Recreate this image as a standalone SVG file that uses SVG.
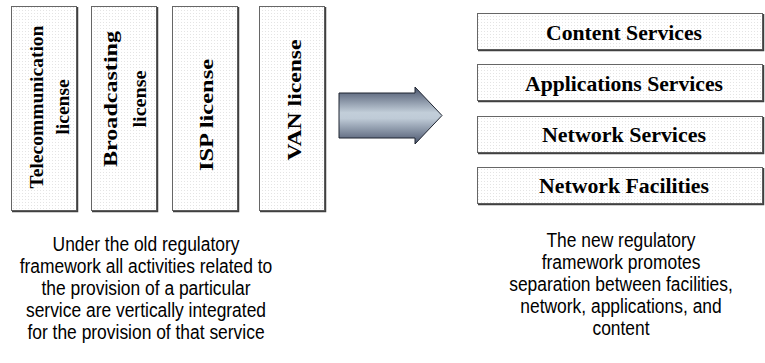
<svg xmlns="http://www.w3.org/2000/svg" width="765" height="363" viewBox="0 0 765 363">
  <defs>
    <!-- faint dotted fill used inside all boxes -->
    <pattern id="dots" width="3" height="3" patternUnits="userSpaceOnUse">
      <rect width="3" height="3" fill="#ffffff"/>
      <rect x="1" y="1" width="1" height="1" fill="#e4e4e4"/>
    </pattern>
    <linearGradient id="arrowFill" x1="0" y1="0" x2="0" y2="1">
      <stop offset="0" stop-color="#48536b"/>
      <stop offset="0.45" stop-color="#c2ced9"/>
      <stop offset="0.55" stop-color="#bfcbd7"/>
      <stop offset="1" stop-color="#4a556d"/>
    </linearGradient>
  </defs>
  <style>
    .box { fill: url(#dots); stroke: #666666; stroke-width: 1; }
    .shadow { stroke: #404040; stroke-width: 1.5; fill: none; }
    .lic { font-family: "Liberation Serif", "Times New Roman", serif; font-weight: bold; font-size: 19.5px; fill: #000; text-anchor: middle; }
    .layer { font-family: "Liberation Serif", "Times New Roman", serif; font-weight: bold; font-size: 20.5px; fill: #000; text-anchor: middle; }
    .note { font-family: "Liberation Sans", Arial, sans-serif; font-size: 21px; fill: #000; text-anchor: middle; }
  </style>

  <!-- vertically integrated licences -->
  <g id="telecom-license">
    <rect class="box" x="11.5" y="6.5" width="65" height="204"/>
    <path class="shadow" d="M12 211.5 H77.5 V7"/>
    <g transform="translate(0,107) rotate(-90)">
      <text class="lic" x="0" y="43">Telecommunication</text>
      <text class="lic" x="0" y="69">license</text>
    </g>
  </g>
  <g id="broadcasting-license">
    <rect class="box" x="91.5" y="6.5" width="65" height="204"/>
    <path class="shadow" d="M92 211.5 H157.5 V7"/>
    <g transform="translate(0,99) rotate(-90)">
      <text class="lic" x="0" y="117" textLength="136" lengthAdjust="spacingAndGlyphs">Broadcasting</text>
      <text class="lic" x="0" y="146" textLength="57" lengthAdjust="spacingAndGlyphs">license</text>
    </g>
  </g>
  <g id="isp-license">
    <rect class="box" x="172.5" y="6.5" width="65" height="204"/>
    <path class="shadow" d="M173 211.5 H238.5 V7"/>
    <g transform="translate(0,115) rotate(-90)">
      <text class="lic" x="0" y="213" textLength="112" lengthAdjust="spacingAndGlyphs">ISP license</text>
    </g>
  </g>
  <g id="van-license">
    <rect class="box" x="259.5" y="6.5" width="65" height="204"/>
    <path class="shadow" d="M260 211.5 H325.5 V7"/>
    <g transform="translate(0,100) rotate(-90)">
      <text class="lic" x="0" y="301" textLength="121" lengthAdjust="spacingAndGlyphs">VAN license</text>
    </g>
  </g>

  <!-- transition arrow -->
  <g id="connectors">
    <polygon points="339,93 415,93 415,87 442,115.5 415,144 415,138 339,138" fill="url(#arrowFill)" stroke="#1e2430" stroke-width="1"/>
  </g>

  <!-- separated service layers -->
  <g id="content-services">
    <rect class="box" x="477.5" y="13.5" width="285" height="36"/>
    <path class="shadow" d="M478 50.5 H763.5 V14"/>
    <text class="layer" x="624" y="40" textLength="156" lengthAdjust="spacingAndGlyphs">Content Services</text>
  </g>
  <g id="applications-services">
    <rect class="box" x="477.5" y="64.5" width="285" height="36"/>
    <path class="shadow" d="M478 101.5 H763.5 V65"/>
    <text class="layer" x="624" y="91" textLength="198" lengthAdjust="spacingAndGlyphs">Applications Services</text>
  </g>
  <g id="network-services">
    <rect class="box" x="477.5" y="116.5" width="285" height="36"/>
    <path class="shadow" d="M478 153.5 H763.5 V117"/>
    <text class="layer" x="624" y="142" textLength="164" lengthAdjust="spacingAndGlyphs">Network Services</text>
  </g>
  <g id="network-facilities">
    <rect class="box" x="477.5" y="167.5" width="285" height="36"/>
    <path class="shadow" d="M478 204.5 H763.5 V168"/>
    <text class="layer" x="624" y="193" textLength="170" lengthAdjust="spacingAndGlyphs">Network Facilities</text>
  </g>

  <!-- captions, set in a narrowed sans -->
  <g id="old-caption" transform="translate(146,0) scale(0.83,1)">
    <text class="note" x="0" y="251">Under the old regulatory</text>
    <text class="note" x="0" y="273">framework all activities related to</text>
    <text class="note" x="0" y="295">the provision of a particular</text>
    <text class="note" x="0" y="317">service are vertically integrated</text>
    <text class="note" x="0" y="339">for the provision of that service</text>
  </g>
  <g id="new-caption" transform="translate(621,0) scale(0.83,1)">
    <text class="note" x="0" y="247">The new regulatory</text>
    <text class="note" x="0" y="269">framework promotes</text>
    <text class="note" x="0" y="291">separation between facilities,</text>
    <text class="note" x="0" y="313">network, applications, and</text>
    <text class="note" x="0" y="335">content</text>
  </g>
</svg>
